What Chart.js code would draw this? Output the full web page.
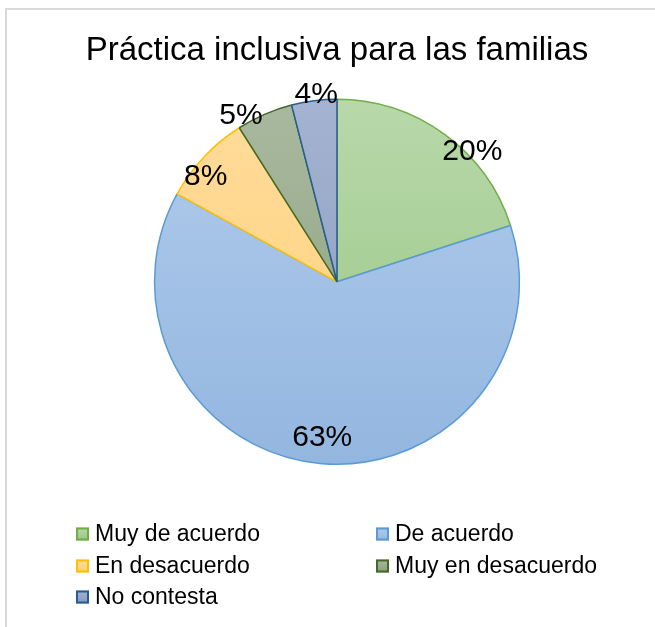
<!DOCTYPE html>
<html>
<head>
<meta charset="utf-8">
<script src="https://cdn.jsdelivr.net/npm/chart.js@4"></script>
<style>
  html, body { margin: 0; padding: 0; background: #fff; }
  #wrap { position: relative; width: 655px; height: 627px; overflow: hidden; }
  #frame { position: absolute; left: 5px; top: 8px; width: 700px; height: 700px; border-left: 2px solid #d9d9d9; border-top: 2px solid #d9d9d9; }
  canvas { position: absolute; left: 0; top: 0; }
</style>
</head>
<body>
<div id="wrap">
  <div id="frame"></div>
  <canvas id="chart" width="655" height="627"></canvas>
</div>
<script>
const title = 'Práctica inclusiva para las familias'
const categories = ['Muy de acuerdo', 'De acuerdo', 'En desacuerdo', 'Muy en desacuerdo', 'No contesta']
const percentages = [20, 63, 8, 5, 4]

const fillTop = ['#b8d8aa', '#b1cceb', '#ffdc9c', '#a9b99f', '#a4b3d0']
const fillBottom = ['#98c683', '#93b6e0', '#ffd077', '#8a9f7b', '#8799bf']
const borderColors = ['#70ad47', '#5b9bd5', '#ffc000', '#43682b', '#255e91']

// where each % label sits: fraction along the slice angle, fraction of the radius
const labelAlong = [0.64, 0.5, 0.34, 0.13, 0.56]
const labelRadius = [1.03, 0.86, 0.92, 1.05, 1.03]

const FONT = '"Liberation Sans", Arial, sans-serif'

const sliceGradient = (ctx) => {
  const { chart, dataIndex } = ctx
  const area = chart.chartArea
  if (!area) return fillTop[dataIndex]
  const g = chart.ctx.createLinearGradient(0, area.top, 0, area.bottom)
  g.addColorStop(0, fillTop[dataIndex])
  g.addColorStop(1, fillBottom[dataIndex])
  return g
}

const percentLabels = {
  id: 'percentLabels',
  afterDatasetsDraw(chart) {
    const ctx = chart.ctx
    const meta = chart.getDatasetMeta(0)
    ctx.save()
    ctx.font = '30px ' + FONT
    ctx.fillStyle = '#000'
    ctx.textAlign = 'center'
    ctx.textBaseline = 'middle'
    meta.data.forEach((arc, i) => {
      const { x, y, startAngle, endAngle, outerRadius } = arc.getProps(['x', 'y', 'startAngle', 'endAngle', 'outerRadius'], true)
      const a = startAngle + (endAngle - startAngle) * labelAlong[i]
      const r = outerRadius * labelRadius[i]
      ctx.fillText(percentages[i] + '%', x + Math.cos(a) * r, y + Math.sin(a) * r)
    })
    ctx.restore()
  },
}

// two column legend under the pie, like the Excel one
const legendCols = [76, 376]
const legendRows = [534, 566, 597]
const boxSize = 13

const gridLegend = {
  id: 'gridLegend',
  afterDraw(chart) {
    const ctx = chart.ctx
    ctx.save()
    ctx.font = '23px ' + FONT
    ctx.textBaseline = 'middle'
    categories.forEach((name, i) => {
      const x = legendCols[i % 2]
      const y = legendRows[Math.floor(i / 2)]
      const g = ctx.createLinearGradient(0, y - boxSize / 2, 0, y + boxSize / 2)
      g.addColorStop(0, fillTop[i])
      g.addColorStop(1, fillBottom[i])
      ctx.fillStyle = g
      ctx.fillRect(x, y - boxSize / 2, boxSize, boxSize)
      ctx.strokeStyle = borderColors[i]
      ctx.lineWidth = 2
      ctx.strokeRect(x + 1, y - boxSize / 2 + 1, boxSize - 2, boxSize - 2)
      ctx.fillStyle = '#000'
      ctx.fillText(name, x + boxSize + 6, y + 1)
    })
    ctx.restore()
  },
}

const chart = new Chart(document.getElementById('chart'), {
  type: 'pie',
  data: {
    labels: categories,
    datasets: [{
      data: percentages,
      backgroundColor: sliceGradient,
      borderColor: borderColors,
      borderWidth: 1.5,
      hoverOffset: 0,
    }],
  },
  options: {
    responsive: false,
    animation: false,
    layout: { padding: { top: 20, left: 19, right: 0, bottom: 162 } },
    plugins: {
      legend: { display: false },
      tooltip: { enabled: false },
      title: {
        display: true,
        text: title,
        color: '#000',
        font: { family: FONT, size: 33, weight: 'normal', lineHeight: 1.2 },
        padding: { top: 11, bottom: 28 },
      },
    },
  },
  plugins: [percentLabels, gridLegend],
})
</script>
</body>
</html>
